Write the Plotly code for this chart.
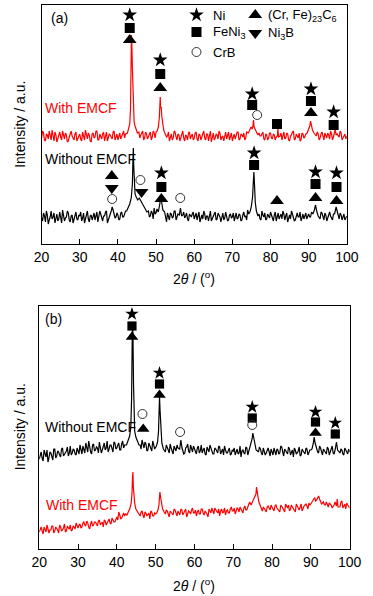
import plotly.graph_objects as go

# ---------------- data (2theta grid 20..100 step 0.5 plus mid-points 20.25.., intensity in a.u.) ----------------
red_a_base = [106, 111, 103, 109, 113, 104, 108, 112, 102, 110, 107, 113, 105, 109, 103, 111, 108, 104, 112, 106,
              110, 103, 108, 114, 105, 109, 102, 111, 107, 113, 104, 108, 110, 103, 112, 106, 109, 105, 113, 107,
              104, 111, 108, 113, 110, 116, 120, 118, 140, 120, 114, 112, 109, 113, 106, 110, 108, 112, 107, 111,
              112, 118, 140, 125, 113, 111, 108, 103, 110, 106, 112, 104, 109, 107, 113, 103, 108, 111, 105, 110,
              106, 112, 103, 109, 107, 113, 104, 110, 108, 102, 111, 106, 109, 113, 104, 108, 110, 105, 112, 107,
              103, 110, 108, 112, 105, 109, 111, 106, 110, 113, 117, 116, 120, 114, 111, 108, 112, 104, 109, 106,
              111, 105, 109, 107, 116, 108, 104, 112, 106, 110, 103, 109, 113, 105, 108, 111, 104, 110, 107, 112,
              114, 121, 116, 112, 108, 110, 106, 112, 104, 109, 111, 105, 110, 108, 113, 110, 107, 111, 106, 110,
              108]
red_a_mid = [113, 104, 110, 105, 108, 114, 103, 109, 106, 112, 104, 108, 111, 102, 107, 113, 105, 110, 103, 109,
             105, 112, 104, 109, 111, 103, 110, 106, 113, 104, 110, 105, 112, 107, 103, 110, 106, 112, 104, 110,
             108, 105, 112, 106, 111, 114, 118, 122, 130, 118, 112, 106, 111, 104, 112, 105, 110, 104, 113, 106,
             110, 115, 130, 120, 110, 107, 112, 108, 104, 113, 107, 110, 103, 111, 106, 109, 104, 112, 108, 104,
             111, 105, 110, 104, 112, 106, 110, 103, 113, 107, 104, 110, 105, 111, 107, 103, 112, 108, 104, 111,
             108, 105, 112, 104, 110, 107, 104, 112, 107, 112, 115, 114, 117, 112, 108, 111, 105, 110, 104, 111,
             106, 110, 104, 112, 107, 111, 108, 105, 111, 104, 108, 112, 104, 110, 106, 103, 111, 106, 110, 109,
             118, 117, 113, 109, 112, 104, 110, 108, 111, 106, 109, 113, 104, 110, 106, 108, 113, 104, 109, 105]
red_a_peak_2theta = [42.5, 42.8, 43.1, 43.3, 43.45, 43.55, 43.65, 43.8, 43.9, 44.05, 44.25, 44.5, 44.8, 45.1,
                     50.3, 50.6, 50.85, 51.0, 51.1, 51.2, 51.35, 51.5, 51.7, 52.0, 52.3,
                     74.2, 74.6, 74.9, 75.2, 75.4, 75.55, 75.7, 75.95, 76.3, 76.7,
                     81.8, 81.95, 82.1,
                     89.6, 90.0, 90.3, 90.5, 90.7, 91.0, 91.4,
                     96.7, 96.95, 97.2]
red_a_peak_int = [111, 115, 120, 135, 185, 209, 200, 176, 160, 132, 122, 118, 114, 111,
                  113, 117, 126, 140, 147, 136, 137, 128, 119, 114, 111,
                  111, 114, 117, 115, 118, 124, 117, 115, 112, 109,
                  108, 116, 107,
                  111, 115, 118, 123, 118, 114, 111,
                  110, 115, 109]

black_a_base = [26, 31, 22, 29, 24, 33, 27, 21, 30, 25, 28, 34, 23, 27, 31, 22, 29, 26, 32, 24,
                28, 23, 31, 26, 33, 22, 29, 27, 24, 32, 26, 30, 23, 28, 33, 25, 30, 37, 31, 27,
                29, 25, 32, 27, 33, 36, 42, 50, 96, 52, 45, 46, 42, 38, 35, 31, 33, 28, 31, 36,
                31, 46, 42, 33, 29, 26, 31, 24, 30, 27, 33, 28, 25, 35, 29, 26, 31, 23, 28, 30,
                25, 31, 27, 22, 29, 33, 24, 28, 30, 23, 27, 32, 25, 29, 22, 31, 26, 28, 24, 30,
                27, 23, 31, 26, 29, 24, 32, 28, 34, 40, 72, 45, 33, 27, 30, 24, 29, 31, 25, 28,
                32, 26, 29, 23, 31, 27, 25, 30, 28, 22, 29, 33, 26, 24, 31, 27, 23, 30, 28, 25,
                30, 27, 33, 38, 32, 28, 25, 31, 24, 29, 27, 32, 26, 30, 36, 31, 25, 29, 27, 24,
                28]
black_a_mid = [23, 28, 33, 20, 27, 25, 31, 26, 23, 32, 21, 29, 26, 33, 24, 28, 21, 30, 25, 29,
               32, 26, 21, 30, 25, 28, 24, 31, 29, 22, 33, 25, 28, 32, 21, 29, 33, 34, 26, 31,
               24, 31, 27, 30, 35, 40, 46, 60, 70, 48, 44, 42, 40, 34, 29, 34, 27, 33, 25, 30,
               35, 44, 36, 27, 32, 22, 28, 31, 26, 33, 24, 30, 29, 23, 32, 28, 25, 30, 27, 32,
               29, 24, 32, 27, 25, 30, 28, 23, 33, 26, 30, 24, 31, 27, 28, 24, 32, 23, 29, 26,
               31, 27, 25, 30, 23, 29, 27, 24, 30, 36, 55, 38, 29, 31, 25, 33, 27, 24, 30, 26,
               28, 23, 32, 27, 25, 30, 33, 24, 31, 27, 25, 30, 23, 29, 27, 32, 26, 25, 31, 29,
               27, 32, 36, 30, 25, 29, 32, 27, 31, 23, 30, 28, 24, 33, 32, 27, 31, 24, 30, 26]
black_a_peak_2theta = [42.3, 42.7, 43.1, 43.5, 43.8, 43.95, 44.05, 44.15, 44.3, 44.5, 44.8, 45.2, 45.6, 46.0,
                       46.4, 46.8, 47.2, 47.6,
                       50.6, 50.9, 51.1, 51.3, 51.5, 51.8,
                       56.1, 56.4, 56.7,
                       74.3, 74.7, 75.0, 75.3, 75.5, 75.65, 75.8, 76.0, 76.3, 76.7,
                       91.1, 91.5, 91.8, 92.1, 92.5,
                       96.8, 97.2, 97.6]
black_a_peak_int = [33, 36, 40, 46, 60, 85, 96, 78, 58, 50, 47, 44, 46, 43,
                    41, 37, 35, 32,
                    32, 38, 44, 47, 41, 34,
                    29, 36, 28,
                    30, 33, 38, 47, 62, 72, 60, 42, 33, 28,
                    30, 34, 39, 33, 28,
                    30, 37, 30]

black_b_base = [90, 97, 88, 94, 99, 91, 96, 89, 100, 93, 97, 92, 101, 95, 98, 93, 103, 96, 99, 94,
                98, 104, 95, 100, 106, 97, 102, 95, 105, 99, 101, 107, 96, 103, 99, 108, 100, 104, 97, 106,
                101, 106, 99, 108, 104, 110, 118, 140, 224, 130, 110, 106, 104, 109, 101, 105, 99, 103, 98, 104,
                103, 108, 152, 115, 100, 97, 102, 96, 101, 95, 99, 104, 97, 108, 100, 96, 102, 98, 104, 97,
                100, 95, 103, 98, 96, 101, 94, 99, 104, 97, 95, 100, 96, 102, 98, 94, 99, 96, 101, 95,
                98, 94, 100, 96, 92, 99, 95, 101, 97, 103, 108, 116, 103, 97, 100, 94, 98, 96, 101, 93,
                97, 101, 94, 99, 96, 102, 93, 98, 95, 100, 97, 92, 99, 96, 102, 94, 98, 95, 100, 97,
                99, 104, 112, 100, 96, 101, 94, 98, 95, 100, 97, 103, 95, 107, 101, 96, 99, 94, 98, 95,
                97]
black_b_mid = [95, 91, 99, 92, 87, 97, 93, 100, 91, 98, 94, 100, 93, 97, 102, 96, 94, 100, 95, 101,
               95, 99, 103, 96, 101, 108, 97, 104, 98, 102, 96, 103, 99, 106, 101, 97, 104, 99, 107, 100,
               104, 99, 105, 101, 107, 112, 120, 160, 180, 120, 108, 111, 100, 104, 107, 98, 106, 101, 108, 100,
               106, 120, 130, 104, 98, 104, 99, 105, 97, 103, 98, 101, 104, 99, 95, 101, 105, 96, 100, 103,
               97, 101, 96, 104, 99, 95, 102, 97, 100, 95, 101, 98, 103, 95, 100, 103, 96, 100, 94, 99,
               101, 97, 95, 103, 98, 96, 102, 94, 100, 105, 112, 108, 98, 102, 96, 101, 94, 99, 97, 100,
               94, 98, 100, 95, 103, 97, 100, 96, 102, 94, 99, 101, 95, 98, 93, 100, 96, 101, 94, 99,
               102, 108, 105, 97, 103, 98, 100, 96, 102, 94, 99, 96, 101, 104, 97, 100, 95, 101, 97, 100]
black_b_peak_2theta = [42.5, 42.9, 43.3, 43.6, 43.8, 43.95, 44.05, 44.15, 44.3, 44.45, 44.6, 44.9, 45.3, 45.7,
                       50.2, 50.5, 50.75, 50.9, 51.0, 51.15, 51.35, 51.6, 52.0,
                       56.2, 56.5, 56.8,
                       74.1, 74.5, 74.85, 75.05, 75.25, 75.5, 75.9,
                       90.3, 90.6, 90.85, 91.1, 91.4,
                       96.3, 96.6, 96.9]
black_b_peak_int = [104, 108, 113, 122, 150, 205, 224, 215, 165, 128, 118, 112, 107, 104,
                    103, 107, 118, 140, 152, 138, 114, 106, 100,
                    100, 109, 101,
                    99, 103, 110, 116, 111, 105, 99,
                    100, 105, 112, 106, 101,
                    100, 107, 99]

red_b_base = [17, 22, 15, 20, 24, 16, 19, 23, 18, 21, 16, 22, 19, 25, 18, 21, 24, 19, 22, 26,
              21, 25, 22, 27, 23, 26, 20, 28, 24, 27, 23, 29, 25, 22, 28, 26, 30, 25, 29, 27,
              32, 37, 30, 34, 33, 38, 45, 70, 77, 58, 40, 36, 33, 38, 31, 36, 34, 30, 37, 33,
              35, 42, 57, 48, 40, 35, 38, 32, 37, 34, 39, 33, 36, 40, 34, 37, 32, 38, 35, 41,
              36, 33, 39, 35, 40, 34, 37, 32, 38, 41, 35, 39, 36, 33, 40, 37, 34, 39, 36, 42,
              38, 35, 41, 37, 40, 36, 43, 39, 45, 48, 52, 56, 50, 46, 42, 38, 41, 37, 43, 39,
              42, 38, 44, 40, 37, 43, 39, 45, 41, 38, 44, 40, 37, 43, 39, 45, 41, 44, 43, 46,
              45, 48, 51, 49, 53, 48, 46, 44, 47, 42, 45, 41, 44, 40, 46, 42, 48, 43, 40, 44,
              41]
red_b_mid = [20, 18, 22, 17, 21, 19, 23, 16, 22, 19, 24, 18, 21, 17, 23, 20, 18, 23, 20, 22,
             24, 21, 26, 24, 28, 22, 25, 23, 27, 25, 28, 24, 27, 29, 24, 28, 26, 31, 27, 30,
             29, 34, 31, 36, 35, 40, 50, 74, 62, 52, 38, 34, 37, 34, 37, 33, 36, 38, 33, 36,
             38, 50, 52, 44, 37, 39, 35, 38, 35, 40, 36, 38, 34, 39, 36, 40, 35, 37, 39, 36,
             39, 37, 35, 40, 36, 38, 35, 40, 36, 38, 41, 37, 40, 38, 36, 41, 38, 36, 40, 38,
             41, 38, 40, 42, 38, 41, 39, 42, 47, 50, 54, 60, 48, 44, 40, 42, 39, 42, 40, 44,
             40, 43, 41, 38, 44, 41, 37, 42, 44, 40, 42, 39, 45, 41, 42, 38, 43, 45, 40, 44,
             47, 50, 48, 52, 50, 45, 47, 44, 43, 46, 44, 42, 47, 43, 44, 47, 41, 45, 46, 42]
red_b_peak_2theta = [42.6, 43.0, 43.4, 43.7, 43.9, 44.05, 44.15, 44.25, 44.35, 44.45, 44.6, 44.9, 45.3,
                     50.3, 50.6, 50.85, 51.0, 51.1, 51.2, 51.35, 51.55, 51.8, 52.2,
                     74.6, 75.0, 75.3, 75.6, 75.85, 76.0, 76.15, 76.35, 76.6, 77.0,
                     96.6, 96.8, 97.0]
red_b_peak_int = [34, 37, 41, 46, 55, 72, 77, 62, 57, 60, 46, 40, 37,
                  36, 39, 44, 52, 57, 54, 50, 45, 40, 37,
                  44, 47, 50, 53, 55, 62, 58, 51, 47, 43,
                  43, 50, 42]

# phase identification marks (2theta, height)
a_star_x = [43.1, 51.1, 75.2, 90.6, 96.55, 51.4, 75.7, 91.8, 97.3]
a_star_y = [229, 184, 150, 155, 132, 71, 91, 72, 71]
a_square_x = [43.1, 51.1, 75.2, 81.7, 90.6, 96.55, 51.4, 75.7, 91.8, 97.3]
a_square_y = [216, 170, 139, 120, 143, 119, 57, 79, 60, 57]
a_tri_x = [43.1, 51.1, 90.6, 38.4, 51.4, 81.7, 91.8, 97.3]
a_tri_y = [204, 156, 131, 68, 45, 43, 46, 43]
a_tridown_x = [38.4, 46.2]
a_tridown_y = [56, 52]
a_circle_x = [76.5, 38.5, 45.9, 56.35]
a_circle_y = [129, 45, 64, 46]

b_star_x = [43.9, 51.0, 74.9, 91.2, 96.3]
b_star_y = [235, 176, 142, 137, 126]
b_square_x = [43.9, 51.0, 74.9, 91.2, 96.3]
b_square_y = [223, 165, 131, 127, 115]
b_tri_x = [43.9, 46.8, 51.0, 91.2]
b_tri_y = [212, 120, 154, 116]
b_circle_x = [46.6, 56.3, 74.9]
b_circle_y = [135, 117, 124]

legend_labels = ["Ni", "FeNi<sub>3</sub>", "CrB", "(Cr, Fe)<sub>23</sub>C<sub>6</sub>", "Ni<sub>3</sub>B"]
legend_symbols = ["star", "square", "circle-open", "triangle-up", "triangle-down"]
legend_x = [60.6, 60.6, 60.6, 76.0, 76.0]
legend_y = [229, 212, 192, 229, 211]
legend_text_x = [64.4, 64.4, 64.4, 78.9, 78.9]

tick_vals = [20, 30, 40, 50, 60, 70, 80, 90, 100]

FONT = "Arial, 'Liberation Sans', sans-serif"
SIZES = {"star": 11, "square": 10, "triangle-up": 12, "triangle-down": 12, "circle-open": 9}


def build(base, mid, px, py):
    pts = [(20 + 0.5 * i, v) for i, v in enumerate(base)]
    pts += [(20.25 + 0.5 * i, v) for i, v in enumerate(mid)]
    pts = [(x, y) for x, y in pts if min(abs(x - p) for p in px) > 0.25]
    pts += list(zip(px, py))
    pts.sort()
    return [p[0] for p in pts], [p[1] for p in pts]


fig = go.Figure()

series = [
    (red_a_base, red_a_mid, red_a_peak_2theta, red_a_peak_int, "#ff0000", "x", "y"),
    (black_a_base, black_a_mid, black_a_peak_2theta, black_a_peak_int, "black", "x", "y"),
    (black_b_base, black_b_mid, black_b_peak_2theta, black_b_peak_int, "black", "x2", "y2"),
    (red_b_base, red_b_mid, red_b_peak_2theta, red_b_peak_int, "#ff0000", "x2", "y2"),
]
for base, mid, px, py, col, xa, ya in series:
    xs, ys = build(base, mid, px, py)
    fig.add_trace(go.Scatter(x=xs, y=ys, mode="lines", line=dict(color=col, width=1.2),
                             xaxis=xa, yaxis=ya, hoverinfo="skip"))


def marks(x, y, sym, xa, ya, scale=1.0):
    size = SIZES[sym] * scale
    if sym == "circle-open":
        mk = dict(symbol=sym, size=size, color="#333333", line=dict(width=1, color="#333333"))
    else:
        mk = dict(symbol=sym, size=size, color="black", line=dict(width=0))
    fig.add_trace(go.Scatter(x=x, y=y, mode="markers", marker=mk, xaxis=xa, yaxis=ya,
                             hoverinfo="skip", cliponaxis=False))


marks(a_star_x, a_star_y, "star", "x", "y")
marks(a_square_x, a_square_y, "square", "x", "y")
marks(a_tri_x, a_tri_y, "triangle-up", "x", "y")
marks(a_tridown_x, a_tridown_y, "triangle-down", "x", "y")
marks(a_circle_x, a_circle_y, "circle-open", "x", "y")

marks(b_star_x, b_star_y, "star", "x2", "y2", 0.92)
marks(b_square_x, b_square_y, "square", "x2", "y2", 0.92)
marks(b_tri_x, b_tri_y, "triangle-up", "x2", "y2", 0.92)
marks(b_circle_x, b_circle_y, "circle-open", "x2", "y2")

for sx, sy, sym in zip(legend_x, legend_y, legend_symbols):
    marks([sx], [sy], sym, "x", "y")

annotations = []
for sy, lab, tx in zip(legend_y, legend_labels, legend_text_x):
    annotations.append(dict(x=tx, y=sy, xref="x", yref="y", text=lab, showarrow=False,
                            xanchor="left", yanchor="middle", font=dict(size=13, color="black")))

texts = [
    ("(a)", 21.9, 226, "x", "y", "black"),
    ("With EMCF", 20.4, 136, "x", "y", "#ff0000"),
    ("Without EMCF", 20.4, 85, "x", "y", "black"),
    ("(b)", 21.0, 230, "x2", "y2", "black"),
    ("Without EMCF", 20.9, 122, "x2", "y2", "black"),
    ("With EMCF", 21.2, 44, "x2", "y2", "#ff0000"),
]
for t, x, y, xr, yr, c in texts:
    annotations.append(dict(x=x, y=y, xref=xr, yref=yr, text=t, showarrow=False,
                            xanchor="left", yanchor="middle", font=dict(size=14, color=c)))

for ypos in [1 - 278 / 596, 1 - 585 / 596]:
    annotations.append(dict(x=197 / 373, y=ypos, xref="paper", yref="paper",
                            text="2<i>θ</i> / (<sup>o</sup>)", showarrow=False,
                            xanchor="center", yanchor="middle", font=dict(size=14, color="black")))
for ypos in [1 - 124.5 / 596, 1 - 427 / 596]:
    annotations.append(dict(x=13 / 373, y=ypos, xref="paper", yref="paper",
                            text="Intensity / a.u.", showarrow=False, textangle=-90,
                            xanchor="center", yanchor="middle", font=dict(size=14, color="black")))

xcommon = dict(range=[20, 100], tickmode="array", tickvals=tick_vals, ticks="inside", ticklen=5,
               tickcolor="black", showline=True, mirror=True, linecolor="black", linewidth=1,
               showgrid=False, zeroline=False, tickfont=dict(size=14, color="black"))
ycommon = dict(showticklabels=False, ticks="", showline=True, mirror=True, linecolor="black",
               linewidth=1, showgrid=False, zeroline=False)

fig.update_layout(
    width=373, height=596,
    margin=dict(l=0, r=0, t=0, b=0),
    paper_bgcolor="white", plot_bgcolor="white",
    showlegend=False,
    font=dict(family=FONT, color="black"),
    xaxis=dict(domain=[35.5 / 373, 358 / 373], anchor="y", **xcommon),
    yaxis=dict(domain=[1 - 244 / 596, 1 - 5 / 596], range=[0, 239], anchor="x", **ycommon),
    xaxis2=dict(domain=[33 / 373, 361 / 373], anchor="y2", **xcommon),
    yaxis2=dict(domain=[1 - 549 / 596, 1 - 306 / 596], range=[0, 243], anchor="x2", **ycommon),
    annotations=annotations,
)

fig.write_html("out.html", config={"displayModeBar": False, "staticPlot": True},
               post_script="document.body.style.margin='0px';document.body.style.overflow='hidden';")
